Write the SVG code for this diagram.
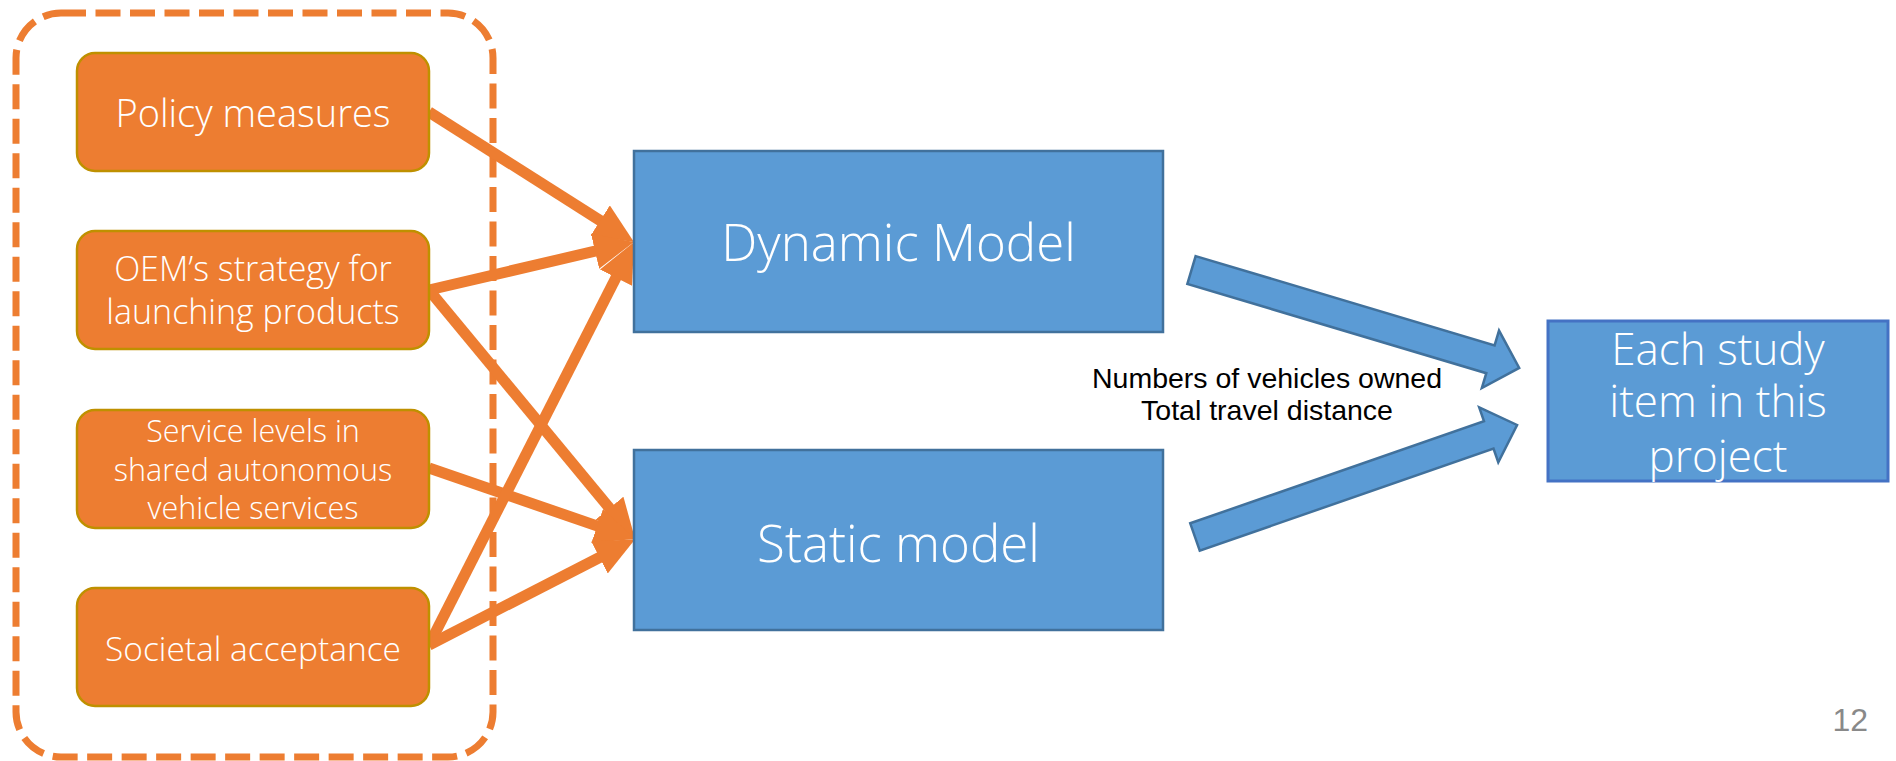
<svg xmlns="http://www.w3.org/2000/svg" width="1896" height="761" viewBox="0 0 1896 761">
<style>
.obox{fill:#ED7D31;stroke:#BF9000;stroke-width:2.5}
.bbox{fill:#5B9BD5;stroke:#41719C;stroke-width:2.5}
.rbox{fill:#5B9BD5;stroke:#4472C4;stroke-width:3}
.wt{fill:#FFFFFF;font-family:'Open Sans','Noto Sans',sans-serif;font-weight:300;text-anchor:middle}
.conn{stroke:#ED7D31;stroke-width:11;fill:none;marker-end:url(#ah)}
.barrow{fill:#5B9BD5;stroke:#41719C;stroke-width:2.5;stroke-linejoin:miter}
.lbl{fill:#000000;font-family:'Liberation Sans',Arial,sans-serif;font-size:28.5px;text-anchor:middle}
</style>
<defs>
<marker id="ah" markerUnits="userSpaceOnUse" markerWidth="40" markerHeight="36" viewBox="0 0 40 36" refX="12" refY="18" orient="auto">
<path d="M0,0 L40,18 L0,36 z" fill="#ED7D31"/>
</marker>
</defs>
<rect id="group-frame" x="16" y="13" width="477" height="744" rx="45" ry="45" fill="none" stroke="#ED7D31" stroke-width="7" stroke-dasharray="25 9.5"/>
<g id="connectors">
<line class="conn" x1="429" y1="112" x2="610.3" y2="227"/>
<line class="conn" x1="429" y1="290" x2="606.7" y2="248.4"/>
<line class="conn" x1="429" y1="290" x2="617.2" y2="517.4"/>
<line class="conn" x1="429" y1="468" x2="608.5" y2="529.9"/>
<line class="conn" x1="429" y1="645" x2="621.4" y2="267"/>
<line class="conn" x1="429" y1="645" x2="610.2" y2="552"/>
<polygon class="barrow" transform="translate(1191.5,270) rotate(16.63)" points="0,-14.5 312,-14.5 312,-30 342,0 312,30 312,14.5 0,14.5"/>
<polygon class="barrow" transform="translate(1195,537) rotate(-19.18)" points="0,-14.5 311,-14.5 311,-29 341,0 311,29 311,14.5 0,14.5"/>
<text class="lbl" x="1267" y="388">Numbers of vehicles owned</text>
<text class="lbl" x="1267" y="420">Total travel distance</text>
</g>
<g id="node-policy">
<rect class="obox" x="77" y="53" width="352" height="118" rx="18" ry="18"/>
<text class="wt" x="253" y="127" font-size="38">Policy measures</text>
</g>
<g id="node-oem">
<rect class="obox" x="77" y="231" width="352" height="118" rx="18" ry="18"/>
<text class="wt" x="253" y="281" font-size="34">OEM’s strategy for</text>
<text class="wt" x="253" y="324" font-size="34">launching products</text>
</g>
<g id="node-service">
<rect class="obox" x="77" y="410" width="352" height="118" rx="18" ry="18"/>
<text class="wt" x="253" y="442" font-size="30.5">Service levels in</text>
<text class="wt" x="253" y="481" font-size="30.5">shared autonomous</text>
<text class="wt" x="253" y="519" font-size="30.5">vehicle services</text>
</g>
<g id="node-societal">
<rect class="obox" x="77" y="588" width="352" height="118" rx="18" ry="18"/>
<text class="wt" x="253" y="661" font-size="33.5">Societal acceptance</text>
</g>
<g id="node-dynamic">
<rect class="bbox" x="634" y="151" width="529" height="181"/>
<text class="wt" x="898.5" y="261" font-size="51">Dynamic Model</text>
</g>
<g id="node-static">
<rect class="bbox" x="634" y="450" width="529" height="180"/>
<text class="wt" x="898.5" y="562" font-size="51">Static model</text>
</g>
<g id="node-study">
<rect class="rbox" x="1548" y="321" width="340" height="160"/>
<text class="wt" x="1718" y="365" font-size="44">Each study</text>
<text class="wt" x="1718" y="417" font-size="44">item in this</text>
<text class="wt" x="1718" y="472" font-size="44">project</text>
</g>
<text id="page-number" x="1868" y="731" fill="#898989" font-family="'Liberation Sans',Arial,sans-serif" font-size="32" text-anchor="end">12</text>
</svg>
